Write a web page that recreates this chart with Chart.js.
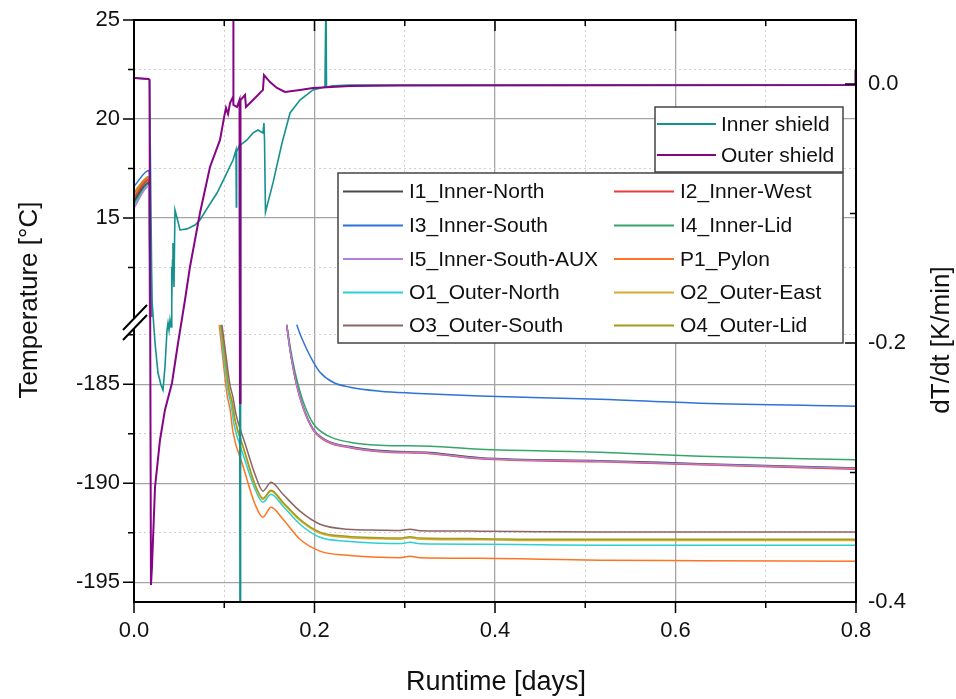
<!DOCTYPE html>
<html>
<head>
<meta charset="utf-8">
<script src="https://cdn.jsdelivr.net/npm/chart.js@4.4.1/dist/chart.umd.min.js"></script>
<style>
  body { margin: 0; background: #fff; }
  canvas { display: block; }
</style>
</head>
<body>
<canvas id="canvas" width="956" height="699"></canvas>
<script>
// temperatures in degC, runtime in days, null = off the (broken) axis
var i1Time = [0, 0.0166, 0.0180, 0.05, 0.1692, 0.1728, 0.1762, 0.1806, 0.1873, 0.1983, 0.2139, 0.2393, 0.2726, 0.3280, 0.3834, 0.5163, 0.6271, 0.8];
var i1Temp = [15.85, 16.8, 10, null, -182.0, -183.2, -184.1, -185.07, -186.13, -187.24, -187.85, -188.15, -188.35, -188.45, -188.71, -188.86, -189.01, -189.23];

var i2Time = [0, 0.0166, 0.0186, 0.05, 0.1692, 0.1728, 0.1762, 0.1806, 0.1873, 0.1983, 0.2139, 0.2393, 0.2726, 0.3280, 0.3834, 0.5163, 0.6271, 0.8];
var i2Temp = [16.05, 16.95, 10, null, -182.0, -183.25, -184.17, -185.13, -186.19, -187.30, -187.91, -188.21, -188.41, -188.51, -188.77, -188.92, -189.07, -189.29];

var i3Time = [0, 0.0166, 0.0200, 0.05, 0.1803, 0.1850, 0.1914, 0.1983, 0.2061, 0.2205, 0.2393, 0.2726, 0.3091, 0.3834, 0.5163, 0.6271, 0.8];
var i3Temp = [16.6, 17.4, 10, null, -182.0, -182.58, -183.23, -183.84, -184.39, -184.9, -185.15, -185.35, -185.45, -185.59, -185.76, -185.96, -186.11];

var i4Time = [0, 0.0166, 0.0178, 0.05, 0.1692, 0.1728, 0.1762, 0.1806, 0.1873, 0.1983, 0.2139, 0.2393, 0.2726, 0.3280, 0.3834, 0.5163, 0.6271, 0.8];
var i4Temp = [15.75, 16.75, 10, null, -182.0, -183.03, -183.89, -184.80, -185.86, -186.97, -187.58, -187.93, -188.08, -188.13, -188.28, -188.43, -188.64, -188.82];

var i5Time = [0, 0.0166, 0.0172, 0.05, 0.1692, 0.1728, 0.1762, 0.1806, 0.1873, 0.1983, 0.2139, 0.2393, 0.2726, 0.3280, 0.3834, 0.5163, 0.6271, 0.8];
var i5Temp = [15.5, 16.6, 10, null, -182.0, -183.23, -184.14, -185.10, -186.16, -187.27, -187.88, -188.18, -188.38, -188.48, -188.74, -188.89, -189.04, -189.26];

var p1Time = [0, 0.0166, 0.0195, 0.05, 0.0945, 0.0986, 0.1030, 0.1064, 0.1097, 0.1208, 0.1341, 0.1429, 0.1518, 0.1651, 0.1839, 0.2061, 0.2360, 0.2726, 0.2947, 0.3058, 0.3169, 0.3834, 0.4499, 0.5163, 0.6271, 0.8];
var p1Temp = [16.3, 17.1, 10, null, -182.0, -183.74, -185.51, -186.26, -187.42, -189.14, -191.06, -191.72, -191.21, -191.82, -192.83, -193.43, -193.64, -193.74, -193.76, -193.69, -193.76, -193.79, -193.84, -193.89, -193.91, -193.94];

var o1Time = [0, 0.0166, 0.0175, 0.05, 0.0958, 0.0997, 0.1042, 0.1075, 0.1108, 0.1208, 0.1341, 0.1429, 0.1518, 0.1651, 0.1839, 0.2061, 0.2360, 0.2726, 0.2947, 0.3058, 0.3169, 0.3834, 0.4499, 0.5163, 0.6271, 0.8];
var o1Temp = [15.65, 16.7, 10, null, -182.0, -183.74, -185.35, -186.01, -187.02, -188.54, -190.30, -190.96, -190.56, -191.16, -192.07, -192.73, -192.93, -193.03, -193.05, -192.98, -193.06, -193.08, -193.11, -193.13, -193.13, -193.13];

var o2Time = [0, 0.0166, 0.0189, 0.05, 0.0964, 0.1008, 0.1053, 0.1086, 0.1119, 0.1219, 0.1341, 0.1429, 0.1518, 0.1651, 0.1839, 0.2061, 0.2360, 0.2726, 0.2947, 0.3058, 0.3169, 0.3834, 0.4499, 0.5163, 0.6271, 0.8];
var o2Temp = [16.15, 17.0, 10, null, -182.0, -183.7, -185.31, -185.92, -186.83, -188.34, -190.11, -190.82, -190.41, -191.02, -191.88, -192.53, -192.74, -192.81, -192.83, -192.76, -192.83, -192.86, -192.89, -192.89, -192.89, -192.89];

var o3Time = [0, 0.0166, 0.0183, 0.05, 0.0975, 0.1019, 0.1064, 0.1097, 0.1130, 0.1230, 0.1352, 0.1429, 0.1518, 0.1651, 0.1839, 0.2061, 0.2360, 0.2726, 0.2947, 0.3058, 0.3169, 0.3834, 0.4499, 0.5163, 0.6271, 0.8];
var o3Temp = [15.95, 16.9, 10, null, -182.0, -183.54, -185.05, -185.66, -186.52, -187.98, -189.70, -190.40, -189.95, -190.56, -191.41, -192.07, -192.32, -192.37, -192.39, -192.32, -192.40, -192.42, -192.45, -192.47, -192.47, -192.47];

var o4Time = [0, 0.0166, 0.0192, 0.05, 0.0964, 0.1008, 0.1053, 0.1086, 0.1119, 0.1219, 0.1341, 0.1429, 0.1518, 0.1651, 0.1839, 0.2061, 0.2360, 0.2726, 0.2947, 0.3058, 0.3169, 0.3834, 0.4499, 0.5163, 0.6271, 0.8];
var o4Temp = [16.25, 17.05, 10, null, -182.0, -183.64, -185.25, -185.86, -186.77, -188.28, -190.05, -190.76, -190.35, -190.96, -191.82, -192.47, -192.68, -192.75, -192.77, -192.70, -192.77, -192.80, -192.83, -192.83, -192.83, -192.83];

// shield rates in K/min (right axis)
var innerShieldTime = [0, 0.0155, 0.0172, 0.0199, 0.0233, 0.0266, 0.0299, 0.0321, 0.0343, 0.0366, 0.0377, 0.0388, 0.0399, 0.0410, 0.0416, 0.0421, 0.0427, 0.0432, 0.0443, 0.0454, 0.0488, 0.0510, 0.0587, 0.0676, 0.0731, 0.0820, 0.0920, 0.1008, 0.1097, 0.1130, 0.1134, 0.1137, 0.1169, 0.1175, 0.1181, 0.1252, 0.1319, 0.1374, 0.1429, 0.1440, 0.1446, 0.1457, 0.1540, 0.1640, 0.1729, 0.1839, 0.1983, 0.2116, 0.2127, 0.2133, 0.2205, 0.2393, 0.8];
var innerShieldRate = [0.0046, 0.0039, 0.0031, -0.1668, -0.2000, -0.2232, -0.2324, -0.2363, -0.2185, -0.1900, -0.1846, -0.1900, -0.1822, -0.1876, -0.1413, -0.1668, -0.1359, -0.1228, -0.1568, -0.0973, -0.1066, -0.1127, -0.1119, -0.1089, -0.1050, -0.0950, -0.0842, -0.0718, -0.0587, -0.0510, -0.0950, -0.0525, -0.0471, -0.45, -0.0471, -0.0432, -0.0378, -0.0355, -0.0378, -0.0301, -0.0432, -0.0988, -0.0764, -0.0456, -0.0224, -0.0124, -0.0046, -0.0023, 0.07, -0.0023, -0.0015, -0.0008, -0.0008];

var outerShieldTime = [0, 0.0161, 0.0172, 0.0188, 0.0199, 0.0233, 0.0288, 0.0343, 0.0421, 0.0488, 0.0565, 0.0620, 0.0731, 0.0842, 0.0953, 0.0997, 0.1019, 0.1042, 0.1064, 0.1097, 0.1100, 0.1103, 0.1141, 0.1169, 0.1175, 0.1180, 0.1230, 0.1241, 0.1341, 0.1429, 0.1440, 0.1507, 0.1584, 0.1673, 0.1839, 0.1983, 0.2393, 0.2947, 0.7989, 0.7994, 0.8];
var outerShieldRate = [0.0046, 0.0039, 0.0031, -0.3869, -0.3730, -0.3112, -0.2749, -0.2517, -0.2309, -0.2000, -0.1668, -0.1413, -0.0996, -0.0641, -0.0432, -0.0262, -0.0185, -0.0232, -0.0147, -0.0100, 0.07, -0.0162, -0.0178, -0.0124, -0.2463, -0.0124, -0.0085, -0.0178, -0.0108, -0.0046, 0.0069, 0.0015, -0.0031, -0.0062, -0.0046, -0.0031, -0.0015, -0.0012, -0.0008, 0.0108, 0.0];

// axis ticks
var tempMajorTicks = [25, 20, 15, -185, -190, -195];
var tempMinorTicks = [22.5, 17.5, 12.5, -182.5, -187.5, -192.5];
var rateTicks = [-0.4, -0.3, -0.2, -0.1, 0.0];
var dayTicks = [0, 0.1, 0.2, 0.3, 0.4, 0.5, 0.6, 0.7, 0.8];

// broken temperature axis: 10..25 on top, -196..-182 below
var BREAK_SHIFT = 191.6;
function toAxis(v) { if (v === null) return null; return v >= 0 ? v : v + BREAK_SHIFT; }
function fromAxis(v) { return v > 9.8 ? v : v - BREAK_SHIFT; }
function pts(t, v, map) {
  return t.map(function(x, i) { return { x: x, y: map ? map(v[i]) : v[i] }; });
}
function isMajorTemp(v) { var r = fromAxis(v); return Math.abs(r - Math.round(r / 5) * 5) < 0.01; }
function isMajorEven(v) { return Math.round(v * 10) % 2 === 0; }

var FONT = "'Liberation Sans', Arial, sans-serif";

function sensor(label, color, t, v) {
  return { label: label, data: pts(t, v, toAxis), borderColor: color, backgroundColor: color,
    borderWidth: 1.5, pointRadius: 0, yAxisID: 'y', clip: 0, cubicInterpolationMode: 'monotone' };
}
function shield(label, color, t, v, w) {
  return { label: label, data: pts(t, v), borderColor: color, backgroundColor: color,
    borderWidth: w, pointRadius: 0, yAxisID: 'y2', clip: 0 };
}

// first dataset is drawn on top
var datasets = [
  shield('Outer shield', '#850585', outerShieldTime, outerShieldRate, 2),
  shield('Inner shield', '#15918f', innerShieldTime, innerShieldRate, 1.6),
  sensor('I5_Inner-South-AUX', '#b57fd9', i5Time, i5Temp),
  sensor('I1_Inner-North', '#4a4a4a', i1Time, i1Temp),
  sensor('I2_Inner-West', '#f03a3a', i2Time, i2Temp),
  sensor('I4_Inner-Lid', '#35a66a', i4Time, i4Temp),
  sensor('I3_Inner-South', '#2f72d6', i3Time, i3Temp),
  sensor('O3_Outer-South', '#8c6464', o3Time, o3Temp),
  sensor('O4_Outer-Lid', '#a09c1e', o4Time, o4Temp),
  sensor('O2_Outer-East', '#d8aa30', o2Time, o2Temp),
  sensor('O1_Outer-North', '#2bd0d0', o1Time, o1Temp),
  sensor('P1_Pylon', '#ff7420', p1Time, p1Temp)
];

var legendShields = ['Inner shield', 'Outer shield'];
var legendLeftCol = ['I1_Inner-North', 'I3_Inner-South', 'I5_Inner-South-AUX', 'O1_Outer-North', 'O3_Outer-South'];
var legendRightCol = ['I2_Inner-West', 'I4_Inner-Lid', 'P1_Pylon', 'O2_Outer-East', 'O4_Outer-Lid'];

var decor = {
  id: 'decor',
  beforeDraw: function(chart) {
    var c = chart.ctx;
    c.save(); c.fillStyle = '#fff'; c.fillRect(0, 0, chart.width, chart.height); c.restore();
  },
  afterDatasetsDraw: function(chart) {
    var c = chart.ctx, a = chart.chartArea;
    var sx = chart.scales.x, sy = chart.scales.y, sy2 = chart.scales.y2;
    c.save();
    c.strokeStyle = '#000';
    c.lineWidth = 2;
    c.strokeRect(a.left, a.top, a.right - a.left, a.bottom - a.top);
    c.lineWidth = 1.5;
    c.beginPath();
    dayTicks.forEach(function(d) {
      var x = sx.getPixelForValue(d), len = isMajorEven(d) ? 11 : 6;
      if (d === 0 || d === 0.8) { c.moveTo(x, a.bottom); c.lineTo(x, a.bottom + 11); return; }
      c.moveTo(x, a.bottom); c.lineTo(x, a.bottom + len);
      c.moveTo(x, a.top); c.lineTo(x, a.top + len);
    });
    tempMajorTicks.concat(tempMinorTicks).forEach(function(r) {
      var y = sy.getPixelForValue(toAxis(r)), len = tempMajorTicks.indexOf(r) >= 0 ? 11 : 6;
      c.moveTo(a.left, y); c.lineTo(a.left - len, y);
    });
    rateTicks.forEach(function(r) {
      var y = sy2.getPixelForValue(r), len = isMajorEven(r) ? 11 : 6;
      c.moveTo(a.right, y); c.lineTo(a.right - len, y);
    });
    c.stroke();
    // axis break marks
    c.fillStyle = '#fff';
    c.beginPath();
    c.moveTo(125, 328); c.lineTo(147, 305); c.lineTo(147, 315); c.lineTo(125, 338); c.closePath();
    c.fill();
    c.lineWidth = 2;
    c.beginPath();
    c.moveTo(123, 330); c.lineTo(147, 305);
    c.moveTo(123, 340); c.lineTo(147, 315);
    c.stroke();
    c.restore();
  },
  afterDraw: function(chart) {
    var c = chart.ctx;
    var byLabel = {};
    chart.data.datasets.forEach(function(d) { byLabel[d.label] = d; });
    c.save();
    function entry(name, x0, x1, tx, y) {
      c.strokeStyle = byLabel[name].borderColor;
      c.lineWidth = 2;
      c.beginPath(); c.moveTo(x0, y); c.lineTo(x1, y); c.stroke();
      c.fillStyle = '#111';
      c.fillText(name, tx, y + 1);
    }
    c.font = '21px ' + FONT;
    c.textBaseline = 'middle';
    c.textAlign = 'left';
    // big sensor legend
    c.fillStyle = '#fff';
    c.fillRect(338, 173, 505, 170);
    c.strokeStyle = '#444'; c.lineWidth = 1.5;
    c.strokeRect(338, 173, 505, 170);
    var rows = [191.5, 225.5, 259, 292.5, 325.5];
    rows.forEach(function(y, i) {
      entry(legendLeftCol[i], 343, 403, 409, y);
      entry(legendRightCol[i], 614, 674, 680, y);
    });
    // shield legend
    c.fillStyle = '#fff';
    c.fillRect(655, 107, 188, 65);
    c.strokeStyle = '#444'; c.lineWidth = 1.5;
    c.strokeRect(655, 107, 188, 65);
    entry(legendShields[0], 657, 716, 721, 124);
    entry(legendShields[1], 657, 716, 721, 155);
    // axis titles
    c.fillStyle = '#111';
    c.textAlign = 'center';
    c.font = '27px ' + FONT;
    c.fillText('Runtime [days]', 496, 683);
    c.font = '26px ' + FONT;
    c.save(); c.translate(30, 300); c.rotate(-Math.PI / 2); c.fillText('Temperature [°C]', 0, 0); c.restore();
    c.save(); c.translate(942, 340); c.rotate(-Math.PI / 2); c.fillText('dT/dt [K/min]', 0, 0); c.restore();
    c.restore();
  }
};

function gridColor(major) { return major ? '#a4a4a4' : '#d0d0d0'; }
function noEdgePad(s) { s.paddingTop = 0; s.paddingBottom = 0; s.paddingLeft = 0; s.paddingRight = 0; }

var ctx = document.getElementById('canvas').getContext('2d');
window.myChart = new Chart(ctx, {
  type: 'line',
  data: { datasets: datasets },
  options: {
    responsive: false,
    animation: false,
    devicePixelRatio: 1,
    layout: { padding: { top: 20, left: 0, right: 0, bottom: 0 } },
    plugins: { legend: { display: false }, tooltip: { enabled: false } },
    elements: { line: { tension: 0 } },
    scales: {
      x: {
        type: 'linear', min: 0, max: 0.8,
        afterBuildTicks: function(s) { s.ticks = dayTicks.map(function(v) { return { value: v }; }); },
        afterFit: function(s) { s.height = 97; noEdgePad(s); },
        ticks: {
          autoSkip: false, maxRotation: 0, padding: 16,
          font: { family: FONT, size: 22 }, color: '#111',
          callback: function(v) { return isMajorEven(v) ? v.toFixed(1) : ''; }
        },
        grid: {
          drawTicks: false,
          color: function(c) { return gridColor(c.tick && isMajorEven(c.tick.value)); },
          lineWidth: function(c) { return c.tick && isMajorEven(c.tick.value) ? 1.3 : 1; }
        },
        border: { display: false, dash: function(c) { return c.tick && !isMajorEven(c.tick.value) ? [2, 3] : []; } }
      },
      y: {
        type: 'linear', position: 'left', min: -4.4, max: 25,
        afterBuildTicks: function(s) {
          s.ticks = tempMajorTicks.concat(tempMinorTicks).map(function(r) { return { value: toAxis(r) }; })
            .sort(function(p, q) { return p.value - q.value; });
        },
        afterFit: function(s) { s.width = 134; noEdgePad(s); },
        ticks: {
          autoSkip: false, padding: 14,
          font: { family: FONT, size: 22 }, color: '#111',
          callback: function(v) { return isMajorTemp(v) ? String(Math.round(fromAxis(v))) : ''; }
        },
        grid: {
          drawTicks: false,
          color: function(c) { return gridColor(c.tick && isMajorTemp(c.tick.value)); },
          lineWidth: function(c) { return c.tick && isMajorTemp(c.tick.value) ? 1.3 : 1; }
        },
        border: { display: false, dash: function(c) { return c.tick && !isMajorTemp(c.tick.value) ? [2, 3] : []; } }
      },
      y2: {
        type: 'linear', position: 'right', min: -0.4, max: 0.0494,
        afterBuildTicks: function(s) { s.ticks = rateTicks.map(function(v) { return { value: v }; }); },
        afterFit: function(s) { s.width = 100; noEdgePad(s); },
        ticks: {
          autoSkip: false, padding: 12,
          font: { family: FONT, size: 22 }, color: '#111',
          callback: function(v) { return isMajorEven(v) ? (Math.round(v * 10) / 10).toFixed(1) : ''; }
        },
        grid: { display: false, drawTicks: false },
        border: { display: false }
      }
    }
  },
  plugins: [decor]
});
</script>
</body>
</html>
